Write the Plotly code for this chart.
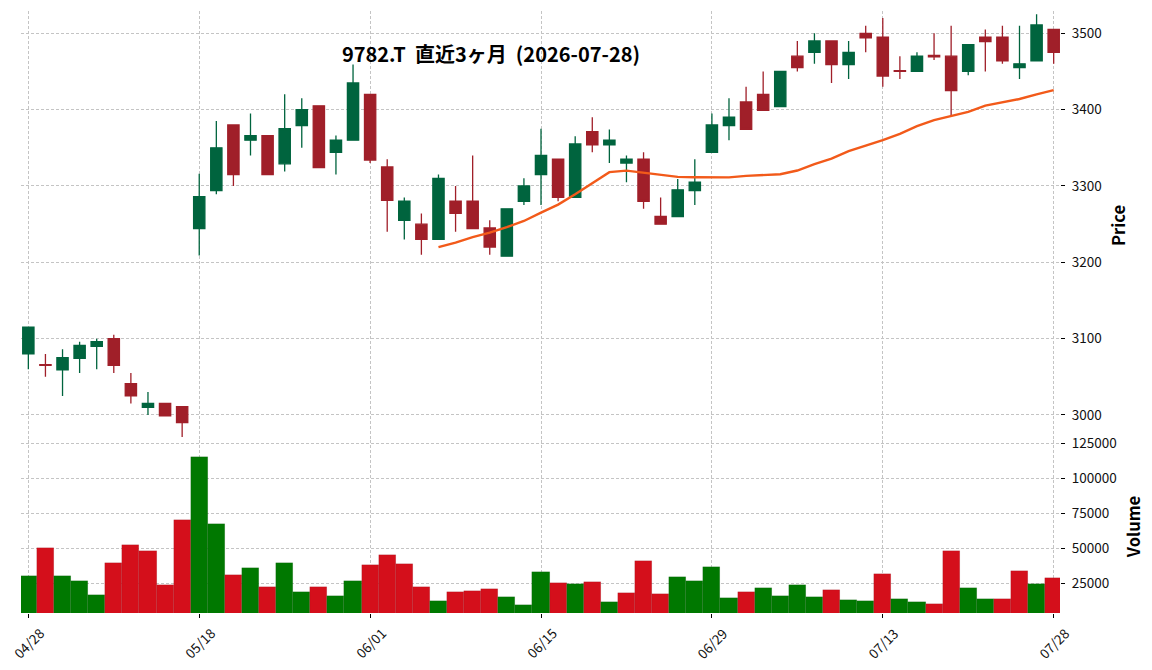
import plotly.graph_objects as go
from plotly.subplots import make_subplots
import pandas as pd

# ---- data ----
dates = ["04/28", "04/30", "05/01", "05/07", "05/08", "05/11", "05/12", "05/13", "05/14", "05/15",
         "05/18", "05/19", "05/20", "05/21", "05/22", "05/25", "05/26", "05/27", "05/28", "05/29",
         "06/01", "06/02", "06/03", "06/04", "06/05", "06/08", "06/09", "06/10", "06/11", "06/12",
         "06/15", "06/16", "06/17", "06/18", "06/19", "06/22", "06/23", "06/24", "06/25", "06/26",
         "06/29", "06/30", "07/01", "07/02", "07/03", "07/06", "07/07", "07/08", "07/09", "07/10",
         "07/13", "07/14", "07/15", "07/16", "07/17", "07/21", "07/22", "07/23", "07/24", "07/27",
         "07/28"]

opens = [3080, 3066, 3059, 3074, 3090, 3100, 3041, 3010, 3015, 3011,
         3244, 3294, 3380, 3360, 3366, 3329, 3379, 3405, 3344, 3360,
         3420, 3325, 3255, 3250, 3230, 3280, 3280, 3245, 3208, 3280,
         3315, 3335, 3285, 3371, 3354, 3330, 3335, 3260, 3260, 3294,
         3344, 3379, 3410, 3420, 3404, 3470, 3475, 3490, 3459, 3500,
         3495, 3451, 3450, 3471, 3470, 3450, 3495, 3495, 3455, 3464, 3505]

highs = [3116, 3080, 3086, 3096, 3100, 3105, 3055, 3030, 3015, 3011,
         3316, 3385, 3380, 3395, 3366, 3420, 3415, 3405, 3366, 3459,
         3420, 3335, 3285, 3264, 3315, 3300, 3340, 3255, 3270, 3310,
         3375, 3335, 3365, 3390, 3374, 3340, 3344, 3285, 3309, 3335,
         3395, 3415, 3430, 3450, 3450, 3490, 3500, 3490, 3490, 3510,
         3520, 3470, 3475, 3500, 3510, 3485, 3505, 3510, 3510, 3525, 3505]

lows = [3060, 3050, 3025, 3055, 3060, 3055, 3015, 3000, 2999, 2971,
        3209, 3289, 3300, 3340, 3315, 3319, 3350, 3324, 3315, 3360,
        3330, 3240, 3230, 3210, 3230, 3240, 3244, 3210, 3208, 3275,
        3275, 3280, 3285, 3344, 3330, 3305, 3270, 3250, 3260, 3275,
        3344, 3360, 3374, 3399, 3404, 3450, 3460, 3435, 3440, 3475,
        3430, 3440, 3450, 3465, 3391, 3445, 3450, 3460, 3440, 3464, 3460]

closes = [3115, 3065, 3075, 3091, 3096, 3065, 3025, 3015, 2999, 2990,
          3286, 3350, 3315, 3366, 3315, 3375, 3400, 3324, 3360, 3435,
          3334, 3281, 3280, 3230, 3310, 3264, 3244, 3220, 3270, 3300,
          3340, 3285, 3355, 3354, 3360, 3335, 3280, 3250, 3295, 3305,
          3380, 3390, 3374, 3399, 3450, 3455, 3490, 3459, 3475, 3494,
          3444, 3450, 3470, 3469, 3425, 3485, 3489, 3464, 3460, 3511, 3475]

volumes = [30200, 50200, 30200, 26700, 16700, 39500, 52400, 48100, 23800, 70200,
           115200, 67400, 31000, 36000, 22400, 39500, 18800, 22400, 16000, 26700,
           38100, 45200, 38800, 22400, 12400, 18800, 19500, 21000, 15200, 9500,
           33100, 25200, 24500, 26000, 11700, 18100, 41000, 17400, 29500, 26700,
           36700, 14500, 18800, 21700, 16000, 23800, 15200, 20200, 13100, 12400,
           31700, 13800, 11700, 10200, 48100, 21700, 13800, 13800, 33800, 24500, 28800]

price_ticks = [3000, 3100, 3200, 3300, 3400, 3500]
volume_ticks = [25000, 50000, 75000, 100000, 125000]
tick_every = 10
mav_window = 25
title_text = "9782.T  直近3ヶ月  (2026-07-28)"

# ---- styles ----
UP = "#00643e"
DOWN = "#a01f29"
VUP = "#007800"
VDOWN = "#d40f1b"
MA_COLOR = "#f25a1a"
GRID = "#c4c4c4"
FONT = "Noto Sans CJK JP"

x = list(range(len(dates)))
ma = pd.Series(closes).rolling(mav_window).mean()

vcolors = []
for i, c in enumerate(closes):
    prev = opens[0] if i == 0 else closes[i - 1]
    vcolors.append(VUP if c > prev else VDOWN)

tickvals = x[::tick_every]
ticktext = dates[::tick_every]

fig = make_subplots(rows=2, cols=1, shared_xaxes=True, vertical_spacing=0)

fig.add_trace(go.Candlestick(
    x=x, open=opens, high=highs, low=lows, close=closes,
    increasing=dict(line=dict(color=UP, width=1.3), fillcolor=UP),
    decreasing=dict(line=dict(color=DOWN, width=1.3), fillcolor=DOWN),
    whiskerwidth=0, showlegend=False, hoverinfo="skip"), row=1, col=1)

fig.add_trace(go.Scatter(x=x, y=ma, mode="lines",
                         line=dict(color=MA_COLOR, width=2.4),
                         showlegend=False, hoverinfo="skip"), row=1, col=1)

fig.add_trace(go.Bar(x=x, y=volumes, marker=dict(color=vcolors, line=dict(width=0.5, color="rgba(0,0,0,0.15)")),
                     showlegend=False, hoverinfo="skip"), row=2, col=1)

split = (613 - 440) / 602

fig.update_layout(
    width=1152, height=670,
    margin=dict(l=21, r=92, t=11, b=57, autoexpand=False),
    paper_bgcolor="white", plot_bgcolor="white",
    font=dict(family=FONT, color="#111111", size=13),
    bargap=0, boxgap=0.34, boxgroupgap=0,
    showlegend=False,
    title=dict(text=title_text, x=491 / 1152, xref="container", xanchor="center",
               y=1 - 55 / 670, yref="container", yanchor="middle", automargin=False,
               font=dict(family=FONT, size=20, color="#000000", weight="bold")),
)

# rotated date labels centred under their ticks (matplotlib-style)
for tv, tt in zip(tickvals, ticktext):
    fig.add_annotation(x=tv, xref="x2", y=(613 - 643) / 602, yref="paper",
                       text=tt, textangle=-45, showarrow=False,
                       xanchor="center", yanchor="middle",
                       font=dict(family=FONT, size=13.5, color="#111111"))

xrange = [-0.43, len(dates) - 1 + 0.37]
common_x = dict(range=xrange, showgrid=True, gridcolor=GRID, gridwidth=0.8, griddash="3px,2px",
                tickvals=tickvals, ticktext=ticktext, zeroline=False, showline=False, automargin=False)
fig.update_xaxes(**common_x, rangeslider=dict(visible=False), showticklabels=False, ticks="", row=1, col=1)
fig.update_xaxes(**common_x, showticklabels=False, ticks="outside", ticklen=4, tickcolor="#000000",
                 row=2, col=1)

yaxis_common = dict(side="right", showgrid=True, gridcolor=GRID, gridwidth=0.8, griddash="3px,2px",
                    ticks="outside", ticklen=4, tickcolor="#000000", zeroline=False, showline=False,
                    tickfont=dict(size=13.5, color="#111111"), ticklabelstandoff=4, tickformat="d",
                    automargin=False)
fig.update_yaxes(domain=[split, 1], range=[2967.2, 3529.2], tickvals=price_ticks,
                 title=dict(text="Price", font=dict(size=16.5, color="#000000", weight="bold"), standoff=12),
                 **yaxis_common, row=1, col=1)
fig.update_yaxes(domain=[0, split], range=[4000, 127400], tickvals=volume_ticks,
                 title=dict(text="Volume", font=dict(size=16.5, color="#000000", weight="bold"), standoff=12),
                 **yaxis_common, row=2, col=1)

fig.write_html("out.html")
